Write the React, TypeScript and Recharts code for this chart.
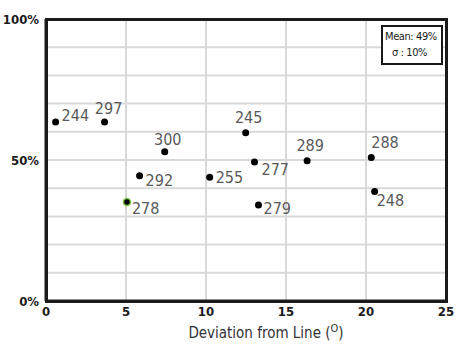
import { ScatterChart, Scatter, XAxis, YAxis, CartesianGrid } from "recharts"

// Deviation (degrees) vs. percentage, one dot per numbered sample
const sampleIds = [244, 297, 300, 292, 278, 255, 245, 277, 279, 289, 288, 248]
const deviation = [0.6, 3.66, 7.42, 5.85, 5.06, 10.23, 12.48, 13.03, 13.28, 16.32, 20.33, 20.54]
const percent = [63.5, 63.5, 52.9, 44.4, 35.1, 43.9, 59.7, 49.3, 34.0, 49.7, 50.9, 38.8]
const highlighted = [278]

const xTicks = [0, 5, 10, 15, 20, 25]
const yTicks = [0, 10, 20, 30, 40, 50, 60, 70, 80, 90, 100]
const yLabelled = [0, 50, 100]

const meanText = "Mean: 49%"
const sigmaText = "σ : 10%"

// where each number sits relative to its dot
const labelNudge: Record<number, [number, number, "start" | "middle"]> = {
  244: [6, -6, "start"],
  297: [4, -13, "middle"],
  300: [3, -12, "middle"],
  292: [6, 5, "start"],
  278: [5, 6, "start"],
  255: [6, 0, "start"],
  245: [3, -15, "middle"],
  277: [7, 8, "start"],
  279: [5, 3, "start"],
  289: [3, -15, "middle"],
  288: [0, -15, "start"],
  248: [2, 9, "start"],
}

const points = sampleIds.map((id, i) => ({ id, x: deviation[i], y: percent[i] }))

const W = 456
const H = 346
const margin = { top: 19, right: 10, bottom: 15, left: 6 }
const yAxisWidth = 40
const xAxisHeight = 30
const plot = {
  left: margin.left + yAxisWidth,
  top: margin.top,
  width: W - margin.left - yAxisWidth - margin.right,
  height: H - margin.top - margin.bottom - xAxisHeight,
}

const font = "'DejaVu Sans Condensed', 'DejaVu Sans', sans-serif"
const ink = "#1a1a1a"
const frameWidth = 3
const tickStyle = { fontSize: 13, fontWeight: 700, fontFamily: font, fill: ink }

function Dot(props: any) {
  const { cx, cy, payload } = props
  const [dx, dy, anchor] = labelNudge[payload.id] || [6, 0, "start"]
  const green = highlighted.includes(payload.id)
  return (
    <g>
      <circle
        cx={cx}
        cy={cy}
        r={3.5}
        fill="#000"
        stroke={green ? "#7cc242" : "none"}
        strokeWidth={green ? 1.5 : 0}
      />
      <text
        x={cx + dx}
        y={cy + dy}
        textAnchor={anchor}
        dominantBaseline="central"
        fontSize={16}
        fontFamily={font}
        fill="#595959"
      >
        {payload.id}
      </text>
    </g>
  )
}

function XTitle(props: any) {
  const { viewBox } = props
  const cx = viewBox.x + viewBox.width / 2 + 20
  return (
    <text x={cx} y={338} textAnchor="middle" fontSize={15} fontFamily={font} fill="#333">
      Deviation from Line (<tspan fontSize={11} dy={-6}>O</tspan>
      <tspan dy={6}>)</tspan>
    </text>
  )
}

export default function App() {
  return (
    <div style={{ position: "absolute", left: 0, top: 0, width: W, height: H, background: "#fff" }}>
      <ScatterChart width={W} height={H} margin={margin}>
        <CartesianGrid stroke="#d9d9d9" strokeWidth={2} horizontalValues={yTicks} verticalValues={xTicks} />
        <XAxis
          type="number"
          dataKey="x"
          domain={[0, 25]}
          ticks={xTicks}
          height={xAxisHeight}
          tickLine={false}
          axisLine={{ stroke: ink, strokeWidth: frameWidth }}
          tick={tickStyle}
          tickMargin={0}
          interval={0}
          label={<XTitle />}
        />
        <YAxis
          type="number"
          dataKey="y"
          domain={[0, 100]}
          ticks={yTicks}
          width={yAxisWidth}
          tickLine={false}
          axisLine={{ stroke: ink, strokeWidth: frameWidth }}
          tick={tickStyle}
          tickMargin={1}
          interval={0}
          tickFormatter={(v: number) => (yLabelled.includes(v) ? `${v}%` : "")}
        />
        <Scatter data={points} shape={<Dot />} isAnimationActive={false} />
      </ScatterChart>
      {/* closed frame round the plot area */}
      <div
        style={{
          position: "absolute",
          left: plot.left - frameWidth / 2,
          top: plot.top - frameWidth / 2,
          width: plot.width + frameWidth,
          height: plot.height + frameWidth,
          border: `${frameWidth}px solid ${ink}`,
          boxSizing: "border-box",
          pointerEvents: "none",
        }}
      />
      <div
        style={{
          position: "absolute",
          left: 381,
          top: 25,
          width: 62,
          height: 40,
          border: `2px solid ${ink}`,
          background: "#fff",
          fontFamily: font,
          fontSize: 11,
          lineHeight: "16px",
          letterSpacing: -0.4,
          color: ink,
          whiteSpace: "nowrap",
          paddingTop: 2,
          boxSizing: "border-box",
        }}
      >
        <div style={{ paddingLeft: 2 }}>{meanText}</div>
        <div style={{ paddingLeft: 9 }}>{sigmaText}</div>
      </div>
    </div>
  )
}
